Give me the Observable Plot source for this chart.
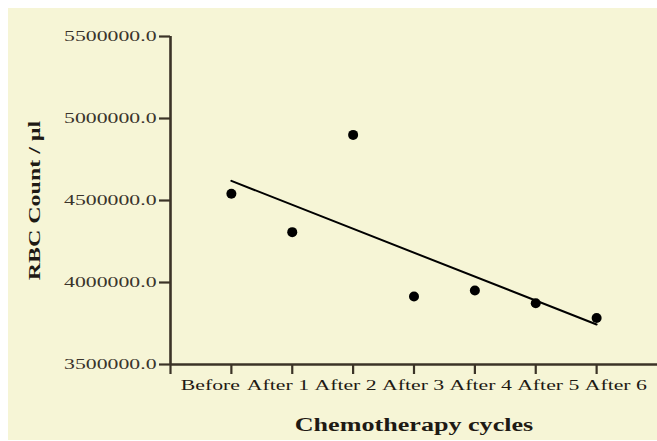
<!DOCTYPE html>
<html>
<head>
<meta charset="utf-8">
<script src="https://cdn.jsdelivr.net/npm/d3@7"></script>
<script src="https://cdn.jsdelivr.net/npm/@observablehq/plot@0.6"></script>
<style>
  html, body { margin: 0; padding: 0; background: #ffffff; }
  #wrap { position: absolute; left: 8px; top: 8px; width: 649px; height: 432px; background: #f6f5d6; }
  svg { display: block; }
</style>
</head>
<body>
<div id="wrap"></div>
<script>
const cycles = ["Before", "After 1", "After 2", "After 3", "After 4", "After 5", "After 6"];
const rbcCount = [4541000, 4307000, 4900000, 3915000, 3951000, 3874000, 3784000];
const yTicks = [3500000, 4000000, 4500000, 5000000, 5500000];
const xTickPositions = [0, 1, 2, 3, 4, 5, 6, 7];
const yTitle = "RBC Count / µl";
const xTitle = "Chemotherapy cycles";

const data = cycles.map((c, i) => ({cycle: c, idx: i + 1, rbc: rbcCount[i]}));

const axisColor = "#3b3327";
const serif = "'Liberation Serif', 'Times New Roman', serif";

const labelMarks = cycles.map((c, i) =>
  Plot.text([c], {
    x: () => i + 1,
    frameAnchor: "bottom",
    dy: 25,
    dx: -21 + 6.7 * i,
    text: d => d,
    fontSize: 15,
    fill: "#1e1a14",
    fontFamily: serif
  })
);

const chart = Plot.plot({
  width: 649,
  height: 432,
  marginLeft: 162,
  marginRight: 0,
  marginTop: 28,
  marginBottom: 76,
  style: {background: "transparent", fontFamily: serif},
  x: {type: "linear", domain: [0, 8]},
  y: {domain: [3500000, 5500000]},
  marks: [
    Plot.axisY({
      ticks: yTicks,
      tickSize: 11,
      tickPadding: 3,
      tickFormat: d => d3.format(".1f")(d),
      fontSize: 15,
      stroke: axisColor,
      strokeWidth: 2.2,
      fill: "#3a342c",
      label: null
    }),
    Plot.axisX({
      ticks: xTickPositions,
      tickSize: 10,
      tickFormat: () => "",
      stroke: axisColor,
      strokeWidth: 2.2,
      label: null
    }),
    Plot.ruleX([0], {stroke: axisColor, strokeWidth: 2.6}),
    Plot.ruleY([3500000], {stroke: axisColor, strokeWidth: 2.6}),
    Plot.linearRegressionY(data, {x: "idx", y: "rbc", ci: 0, stroke: "#000", strokeWidth: 2}),
    Plot.dot(data, {x: "idx", y: "rbc", r: 5, fill: "#000", stroke: "none"}),
    ...labelMarks,
    Plot.text([yTitle], {
      frameAnchor: "left",
      textAnchor: "middle",
      dx: -136,
      rotate: -90,
      text: d => d,
      fontSize: 16.5,
      fontWeight: "bold",
      fill: "#1e1a14",
      fontFamily: serif
    }),
    Plot.text([xTitle], {
      frameAnchor: "bottom",
      dy: 66,
      text: d => d,
      fontSize: 18,
      fontWeight: "bold",
      fill: "#1e1a14",
      fontFamily: serif
    })
  ]
});

document.getElementById("wrap").appendChild(chart);

// horizontally stretch glyphs to mimic the reference's wide lettering
chart.querySelectorAll("text").forEach(t => {
  const w = t.getComputedTextLength();
  if (w > 0) {
    t.setAttribute("textLength", (w * 1.45).toFixed(1));
    t.setAttribute("lengthAdjust", "spacingAndGlyphs");
  }
});
</script>
</body>
</html>
